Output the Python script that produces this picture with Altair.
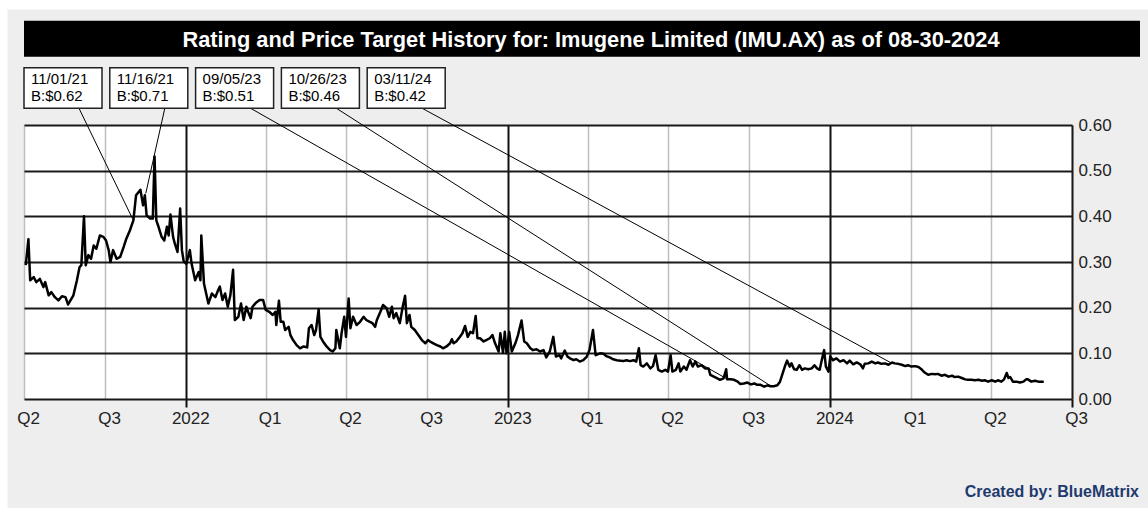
import altair as alt
import pandas as pd

# ---------------- data ----------------
price_dates = [
    "2021-07-03", "2021-07-06", "2021-07-08", "2021-07-12", "2021-07-15", "2021-07-19", "2021-07-23",
    "2021-07-25", "2021-07-29", "2021-08-01", "2021-08-05", "2021-08-09", "2021-08-13", "2021-08-17",
    "2021-08-20", "2021-08-26", "2021-08-30", "2021-09-02", "2021-09-04", "2021-09-07", "2021-09-09",
    "2021-09-12", "2021-09-15", "2021-09-18", "2021-09-21", "2021-09-25", "2021-09-29", "2021-10-02",
    "2021-10-05", "2021-10-07", "2021-10-10", "2021-10-14", "2021-10-18", "2021-10-22", "2021-10-25",
    "2021-10-29", "2021-11-02", "2021-11-05", "2021-11-10", "2021-11-13", "2021-11-15", "2021-11-17",
    "2021-11-21", "2021-11-24", "2021-11-26", "2021-11-28", "2021-11-30", "2021-12-04", "2021-12-07",
    "2021-12-10", "2021-12-12", "2021-12-14", "2021-12-17", "2021-12-19", "2021-12-22", "2021-12-25",
    "2021-12-27", "2021-12-29", "2022-01-01", "2022-01-05", "2022-01-07", "2022-01-11", "2022-01-15",
    "2022-01-17", "2022-01-18", "2022-01-21", "2022-01-26", "2022-01-30", "2022-02-03", "2022-02-06",
    "2022-02-08", "2022-02-11", "2022-02-14", "2022-02-17", "2022-02-20", "2022-02-23", "2022-02-25",
    "2022-03-01", "2022-03-04", "2022-03-07", "2022-03-10", "2022-03-12", "2022-03-15", "2022-03-17",
    "2022-03-21", "2022-03-25", "2022-03-29", "2022-04-01", "2022-04-05", "2022-04-09", "2022-04-12",
    "2022-04-13", "2022-04-16", "2022-04-18", "2022-04-21", "2022-04-23", "2022-04-27", "2022-04-29",
    "2022-05-02", "2022-05-06", "2022-05-10", "2022-05-14", "2022-05-18", "2022-05-20", "2022-05-23",
    "2022-05-26", "2022-05-28", "2022-05-31", "2022-06-02", "2022-06-05", "2022-06-09", "2022-06-13",
    "2022-06-16", "2022-06-19", "2022-06-20", "2022-06-24", "2022-06-26", "2022-06-29", "2022-07-01",
    "2022-07-04", "2022-07-06", "2022-07-09", "2022-07-13", "2022-07-17", "2022-07-21", "2022-07-24",
    "2022-07-28", "2022-07-31", "2022-08-03", "2022-08-05", "2022-08-09", "2022-08-12", "2022-08-16",
    "2022-08-19", "2022-08-22", "2022-08-24", "2022-08-27", "2022-08-31", "2022-09-03", "2022-09-06",
    "2022-09-08", "2022-09-11", "2022-09-13", "2022-09-17", "2022-09-21", "2022-09-25", "2022-09-29",
    "2022-10-02", "2022-10-05", "2022-10-08", "2022-10-12", "2022-10-16", "2022-10-19", "2022-10-23",
    "2022-10-27", "2022-10-29", "2022-10-31", "2022-11-03", "2022-11-07", "2022-11-10", "2022-11-13",
    "2022-11-16", "2022-11-19", "2022-11-22", "2022-11-25", "2022-11-27", "2022-11-30", "2022-12-04",
    "2022-12-07", "2022-12-11", "2022-12-14", "2022-12-17", "2022-12-21", "2022-12-23", "2022-12-26",
    "2022-12-28", "2022-12-30", "2023-01-02", "2023-01-05", "2023-01-09", "2023-01-12", "2023-01-16",
    "2023-01-19", "2023-01-22", "2023-01-26", "2023-01-29", "2023-02-02", "2023-02-06", "2023-02-10",
    "2023-02-13", "2023-02-17", "2023-02-21", "2023-02-24", "2023-02-28", "2023-03-02", "2023-03-06",
    "2023-03-09", "2023-03-12", "2023-03-16", "2023-03-19", "2023-03-23", "2023-03-27", "2023-03-31",
    "2023-04-03", "2023-04-07", "2023-04-10", "2023-04-15", "2023-04-19", "2023-04-22", "2023-04-26",
    "2023-04-30", "2023-05-04", "2023-05-08", "2023-05-11", "2023-05-15", "2023-05-19", "2023-05-23",
    "2023-05-26", "2023-05-29", "2023-05-31", "2023-06-03", "2023-06-07", "2023-06-11", "2023-06-14",
    "2023-06-17", "2023-06-20", "2023-06-24", "2023-06-28", "2023-07-01", "2023-07-04", "2023-07-06",
    "2023-07-10", "2023-07-13", "2023-07-15", "2023-07-19", "2023-07-22", "2023-07-26", "2023-07-29",
    "2023-08-01", "2023-08-04", "2023-08-08", "2023-08-12", "2023-08-16", "2023-08-18", "2023-08-22",
    "2023-08-26", "2023-08-29", "2023-09-02", "2023-09-05", "2023-09-06", "2023-09-10", "2023-09-14",
    "2023-09-18", "2023-09-21", "2023-09-25", "2023-09-29", "2023-10-03", "2023-10-07", "2023-10-10",
    "2023-10-14", "2023-10-18", "2023-10-22", "2023-10-25", "2023-10-29", "2023-11-02", "2023-11-05",
    "2023-11-08", "2023-11-11", "2023-11-13", "2023-11-16", "2023-11-18", "2023-11-21", "2023-11-24",
    "2023-11-27", "2023-11-30", "2023-12-03", "2023-12-07", "2023-12-11", "2023-12-14", "2023-12-17",
    "2023-12-20", "2023-12-22", "2023-12-25", "2023-12-27", "2023-12-30", "2024-01-01", "2024-01-04",
    "2024-01-08", "2024-01-12", "2024-01-16", "2024-01-20", "2024-01-23", "2024-01-27", "2024-01-31",
    "2024-02-04", "2024-02-07", "2024-02-09", "2024-02-13", "2024-02-17", "2024-02-21", "2024-02-24",
    "2024-02-28", "2024-03-03", "2024-03-07", "2024-03-11", "2024-03-14", "2024-03-18", "2024-03-22",
    "2024-03-26", "2024-03-29", "2024-04-02", "2024-04-06", "2024-04-10", "2024-04-14", "2024-04-17",
    "2024-04-21", "2024-04-25", "2024-04-29", "2024-05-02", "2024-05-06", "2024-05-10", "2024-05-14",
    "2024-05-18", "2024-05-21", "2024-05-25", "2024-05-29", "2024-06-02", "2024-06-05", "2024-06-09",
    "2024-06-13", "2024-06-17", "2024-06-21", "2024-06-24", "2024-06-28", "2024-07-02", "2024-07-06",
    "2024-07-09", "2024-07-13", "2024-07-16", "2024-07-19", "2024-07-21", "2024-07-23", "2024-07-26",
    "2024-07-30", "2024-08-03", "2024-08-07", "2024-08-10", "2024-08-12", "2024-08-16", "2024-08-20",
    "2024-08-24", "2024-08-28", "2024-08-30",
]
price_values = [
    0.293, 0.350, 0.260, 0.267, 0.256, 0.263, 0.245,
    0.256, 0.227, 0.234, 0.223, 0.216, 0.225, 0.223,
    0.207, 0.227, 0.260, 0.289, 0.293, 0.400, 0.293,
    0.315, 0.307, 0.336, 0.329, 0.358, 0.355, 0.347,
    0.326, 0.300, 0.326, 0.307, 0.311, 0.333, 0.351,
    0.369, 0.391, 0.446, 0.458, 0.424, 0.446, 0.402,
    0.395, 0.395, 0.531, 0.391, 0.380, 0.355, 0.347,
    0.377, 0.358, 0.404, 0.355, 0.340, 0.322, 0.417,
    0.326, 0.302, 0.296, 0.326, 0.296, 0.260, 0.278,
    0.260, 0.358, 0.253, 0.209, 0.231, 0.223, 0.238,
    0.246, 0.217, 0.231, 0.202, 0.228, 0.283, 0.173,
    0.180, 0.209, 0.173, 0.202, 0.191, 0.177, 0.202,
    0.211, 0.217, 0.217, 0.195, 0.191, 0.184, 0.191,
    0.162, 0.215, 0.169, 0.169, 0.151, 0.158, 0.140,
    0.129, 0.118, 0.111, 0.115, 0.113, 0.155, 0.162,
    0.140, 0.151, 0.196, 0.136, 0.126, 0.115, 0.107,
    0.104, 0.111, 0.151, 0.111, 0.144, 0.180, 0.136,
    0.220, 0.155, 0.180, 0.162, 0.169, 0.180, 0.173,
    0.169, 0.166, 0.158, 0.173, 0.191, 0.206, 0.199,
    0.180, 0.202, 0.177, 0.188, 0.166, 0.199, 0.226,
    0.166, 0.184, 0.158, 0.151, 0.140, 0.129, 0.122,
    0.129, 0.125, 0.122, 0.118, 0.115, 0.111, 0.115,
    0.122, 0.131, 0.122, 0.126, 0.136, 0.144, 0.160,
    0.136, 0.147, 0.144, 0.182, 0.133, 0.133, 0.126,
    0.129, 0.133, 0.140, 0.122, 0.104, 0.144, 0.101,
    0.147, 0.100, 0.147, 0.104, 0.122, 0.140, 0.172,
    0.126, 0.122, 0.111, 0.107, 0.109, 0.104, 0.107,
    0.091, 0.104, 0.136, 0.093, 0.096, 0.089, 0.106,
    0.093, 0.089, 0.085, 0.087, 0.082, 0.085, 0.093,
    0.107, 0.151, 0.096, 0.100, 0.099, 0.094, 0.091,
    0.087, 0.085, 0.084, 0.083, 0.085, 0.083, 0.085,
    0.082, 0.111, 0.074, 0.071, 0.078, 0.067, 0.072,
    0.096, 0.064, 0.060, 0.064, 0.060, 0.096, 0.060,
    0.064, 0.078, 0.060, 0.071, 0.064, 0.085, 0.071,
    0.082, 0.071, 0.074, 0.067, 0.067, 0.053, 0.049,
    0.045, 0.042, 0.045, 0.065, 0.043, 0.043, 0.042,
    0.038, 0.033, 0.034, 0.036, 0.032, 0.034, 0.031,
    0.031, 0.027, 0.030, 0.028, 0.028, 0.030, 0.038,
    0.056, 0.074, 0.084, 0.071, 0.078, 0.065, 0.064,
    0.074, 0.064, 0.067, 0.065, 0.067, 0.074, 0.067,
    0.064, 0.082, 0.107, 0.071, 0.060, 0.093, 0.085,
    0.089, 0.082, 0.085, 0.078, 0.084, 0.076, 0.080,
    0.076, 0.067, 0.077, 0.078, 0.082, 0.078, 0.080,
    0.077, 0.078, 0.075, 0.080, 0.078, 0.077, 0.075,
    0.072, 0.074, 0.071, 0.072, 0.070, 0.064, 0.058,
    0.053, 0.055, 0.054, 0.055, 0.051, 0.053, 0.049,
    0.051, 0.048, 0.049, 0.046, 0.043, 0.042, 0.042,
    0.041, 0.042, 0.040, 0.041, 0.038, 0.041, 0.038,
    0.041, 0.038, 0.043, 0.057, 0.046, 0.048, 0.038,
    0.038, 0.036, 0.038, 0.043, 0.043, 0.038, 0.040,
    0.038, 0.038, 0.038,
]

ann_dates = ["2021-11-01", "2021-11-16", "2023-09-05", "2023-10-26", "2024-03-11"]
ann_labels = ["11/01/21", "11/16/21", "09/05/23", "10/26/23", "03/11/24"]
ann_ratings = ["B:$0.62", "B:$0.71", "B:$0.51", "B:$0.46", "B:$0.42"]
ann_close = [0.395, 0.45, 0.045, 0.028, 0.078]

quarter_ticks = [
    "2021-07-01", "2021-10-01", "2022-01-01", "2022-04-01", "2022-07-01", "2022-10-01", "2023-01-01",
    "2023-04-01", "2023-07-01", "2023-10-01", "2024-01-01", "2024-04-01", "2024-07-01", "2024-10-01",
]
y_ticks = [0.0, 0.1, 0.2, 0.3, 0.4, 0.5, 0.6]

title_text = "Rating and Price Target History for: Imugene Limited (IMU.AX) as of 08-30-2024"
credit_text = "Created by: BlueMatrix"

# ---------------- layout ----------------
W, H = 1048, 274
PAD = {"left": 24, "top": 125, "right": 76, "bottom": 109}
FONT = "Liberation Sans"


def to_dt(s):
    y, m, d = (int(v) for v in s.split("-"))
    return alt.DateTime(year=y, month=m, date=d)


X0 = pd.Timestamp(quarter_ticks[0])
X1 = pd.Timestamp(quarter_ticks[-1])
Y0, Y1 = y_ticks[0], y_ticks[-1]


def px_to_date(px):
    return X0 + (X1 - X0) * (px / W)


def px_to_val(py):
    return Y0 + (Y1 - Y0) * (1 - py / H)


x_scale = alt.Scale(domain=[to_dt(quarter_ticks[0]), to_dt(quarter_ticks[-1])], nice=False)
y_scale = alt.Scale(domain=[Y0, Y1], nice=False)

is_year = "month(datum.value) === 0"
x_axis = alt.Axis(
    values=[to_dt(t) for t in quarter_ticks],
    labelExpr="month(datum.value) === 0 ? timeFormat(datum.value, '%Y') : 'Q' + (month(datum.value) / 3)",
    title=None,
    grid=True,
    gridColor={"condition": {"test": is_year, "value": "#111111"}, "value": "#BEBEBE"},
    gridWidth={"condition": {"test": is_year, "value": 2}, "value": 1.5},
    domain=False,
    ticks=True,
    tickSize=8,
    tickWidth=2,
    tickColor={"condition": {"test": is_year + " || (year(datum.value) === 2024 && month(datum.value) === 9)",
                             "value": "#111111"}, "value": "transparent"},
    labelFont=FONT,
    labelFontSize=17,
    labelColor="#222222",
    labelPadding=3,
    labelOffset=4,
    labelFlush=False,
    labelOverlap=False,
)
y_axis = alt.Axis(
    orient="right",
    values=y_ticks,
    format=".2f",
    title=None,
    grid=True,
    gridColor="#1A1A1A",
    gridWidth=2,
    domain=True,
    domainColor="#1A1A1A",
    domainWidth=2,
    ticks=False,
    labelFont=FONT,
    labelFontSize=17,
    labelColor="#222222",
    labelPadding=6,
)

prices = pd.DataFrame({"date": pd.to_datetime(price_dates), "price": price_values})

# annotation table (positions computed from layout constants, converted to data space)
BOX_STEP, BOX_W, BOX_TOP, BOX_BOTTOM = 85.8, 78, -57.3, -16.7
ann = pd.DataFrame({
    "date": pd.to_datetime(ann_dates),
    "close": ann_close,
    "label": ann_labels,
    "rating": ann_ratings,
})
lefts = [i * BOX_STEP for i in range(len(ann))]
ann["bx0"] = [px_to_date(l) for l in lefts]
ann["bx1"] = [px_to_date(l + BOX_W) for l in lefts]
ann["tx"] = [px_to_date(l + 7) for l in lefts]
ann["sx"] = [px_to_date(l + 55) for l in lefts]
ann["by0"] = px_to_val(BOX_TOP)
ann["by1"] = px_to_val(BOX_BOTTOM)
ann["ty1"] = px_to_val(-41)
ann["ty2"] = px_to_val(-24)

one = alt.Data(values=[{}])

# decoration: white margin strips, title bar, title, credit
strip_left = alt.Chart(one).mark_rect(color="white").encode(
    x=alt.value(-PAD["left"]), x2=alt.value(-16.5), y=alt.value(-PAD["top"]), y2=alt.value(H + PAD["bottom"]))
strip_top = alt.Chart(one).mark_rect(color="white").encode(
    x=alt.value(-PAD["left"]), x2=alt.value(W + PAD["right"]), y=alt.value(-PAD["top"]), y2=alt.value(-115.5))
title_bar = alt.Chart(one).mark_rect(color="black").encode(
    x=alt.value(0), x2=alt.value(1116), y=alt.value(-104.3), y2=alt.value(-68.3))
title = alt.Chart(one).mark_text(
    text=title_text, font=FONT, fontSize=21.8, fontWeight="bold", color="white",
    align="center", baseline="alphabetic").encode(x=alt.value(567), y=alt.value(-78.3))
credit = alt.Chart(one).mark_text(
    text=credit_text, font=FONT, fontSize=16, fontWeight="bold", color="#1F3A6E",
    align="right", baseline="alphabetic").encode(x=alt.value(1115), y=alt.value(371.7))

X = alt.X("date:T", scale=x_scale, axis=x_axis)
Y = alt.Y("price:Q", scale=y_scale, axis=y_axis)

line = alt.Chart(prices).mark_line(color="black", strokeWidth=2.5, strokeJoin="round").encode(
    x=X, y=Y,
)

connectors = alt.Chart(ann).mark_rule(color="black", strokeWidth=1).encode(
    x=alt.X("date:T", scale=x_scale, axis=x_axis),
    y=alt.Y("close:Q", scale=y_scale, axis=y_axis),
    x2="sx:T",
    y2="by1:Q",
)
boxes = alt.Chart(ann).mark_rect(fill="white", stroke="#222222", strokeWidth=1.5).encode(
    x=alt.X("bx0:T", scale=x_scale, axis=x_axis),
    x2="bx1:T",
    y=alt.Y("by0:Q", scale=y_scale, axis=y_axis),
    y2="by1:Q",
)
text1 = alt.Chart(ann).mark_text(font=FONT, fontSize=15, color="black", align="left",
                                 baseline="alphabetic").encode(
    x=alt.X("tx:T", scale=x_scale, axis=x_axis),
    y=alt.Y("ty1:Q", scale=y_scale, axis=y_axis),
    text="label:N",
)
text2 = alt.Chart(ann).mark_text(font=FONT, fontSize=15, color="black", align="left",
                                 baseline="alphabetic").encode(
    x=alt.X("tx:T", scale=x_scale, axis=x_axis),
    y=alt.Y("ty2:Q", scale=y_scale, axis=y_axis),
    text="rating:N",
)

chart = alt.layer(
    line, strip_left, strip_top, title_bar, title, connectors, boxes, text1, text2, credit
).properties(
    width=W,
    height=H,
    autosize=alt.AutoSizeParams(type="none"),
    padding=PAD,
    background="#EEEEEE",
).configure_view(fill="white", stroke="transparent")

chart.save("out.html", embed_options={"renderer": "svg", "actions": False})
